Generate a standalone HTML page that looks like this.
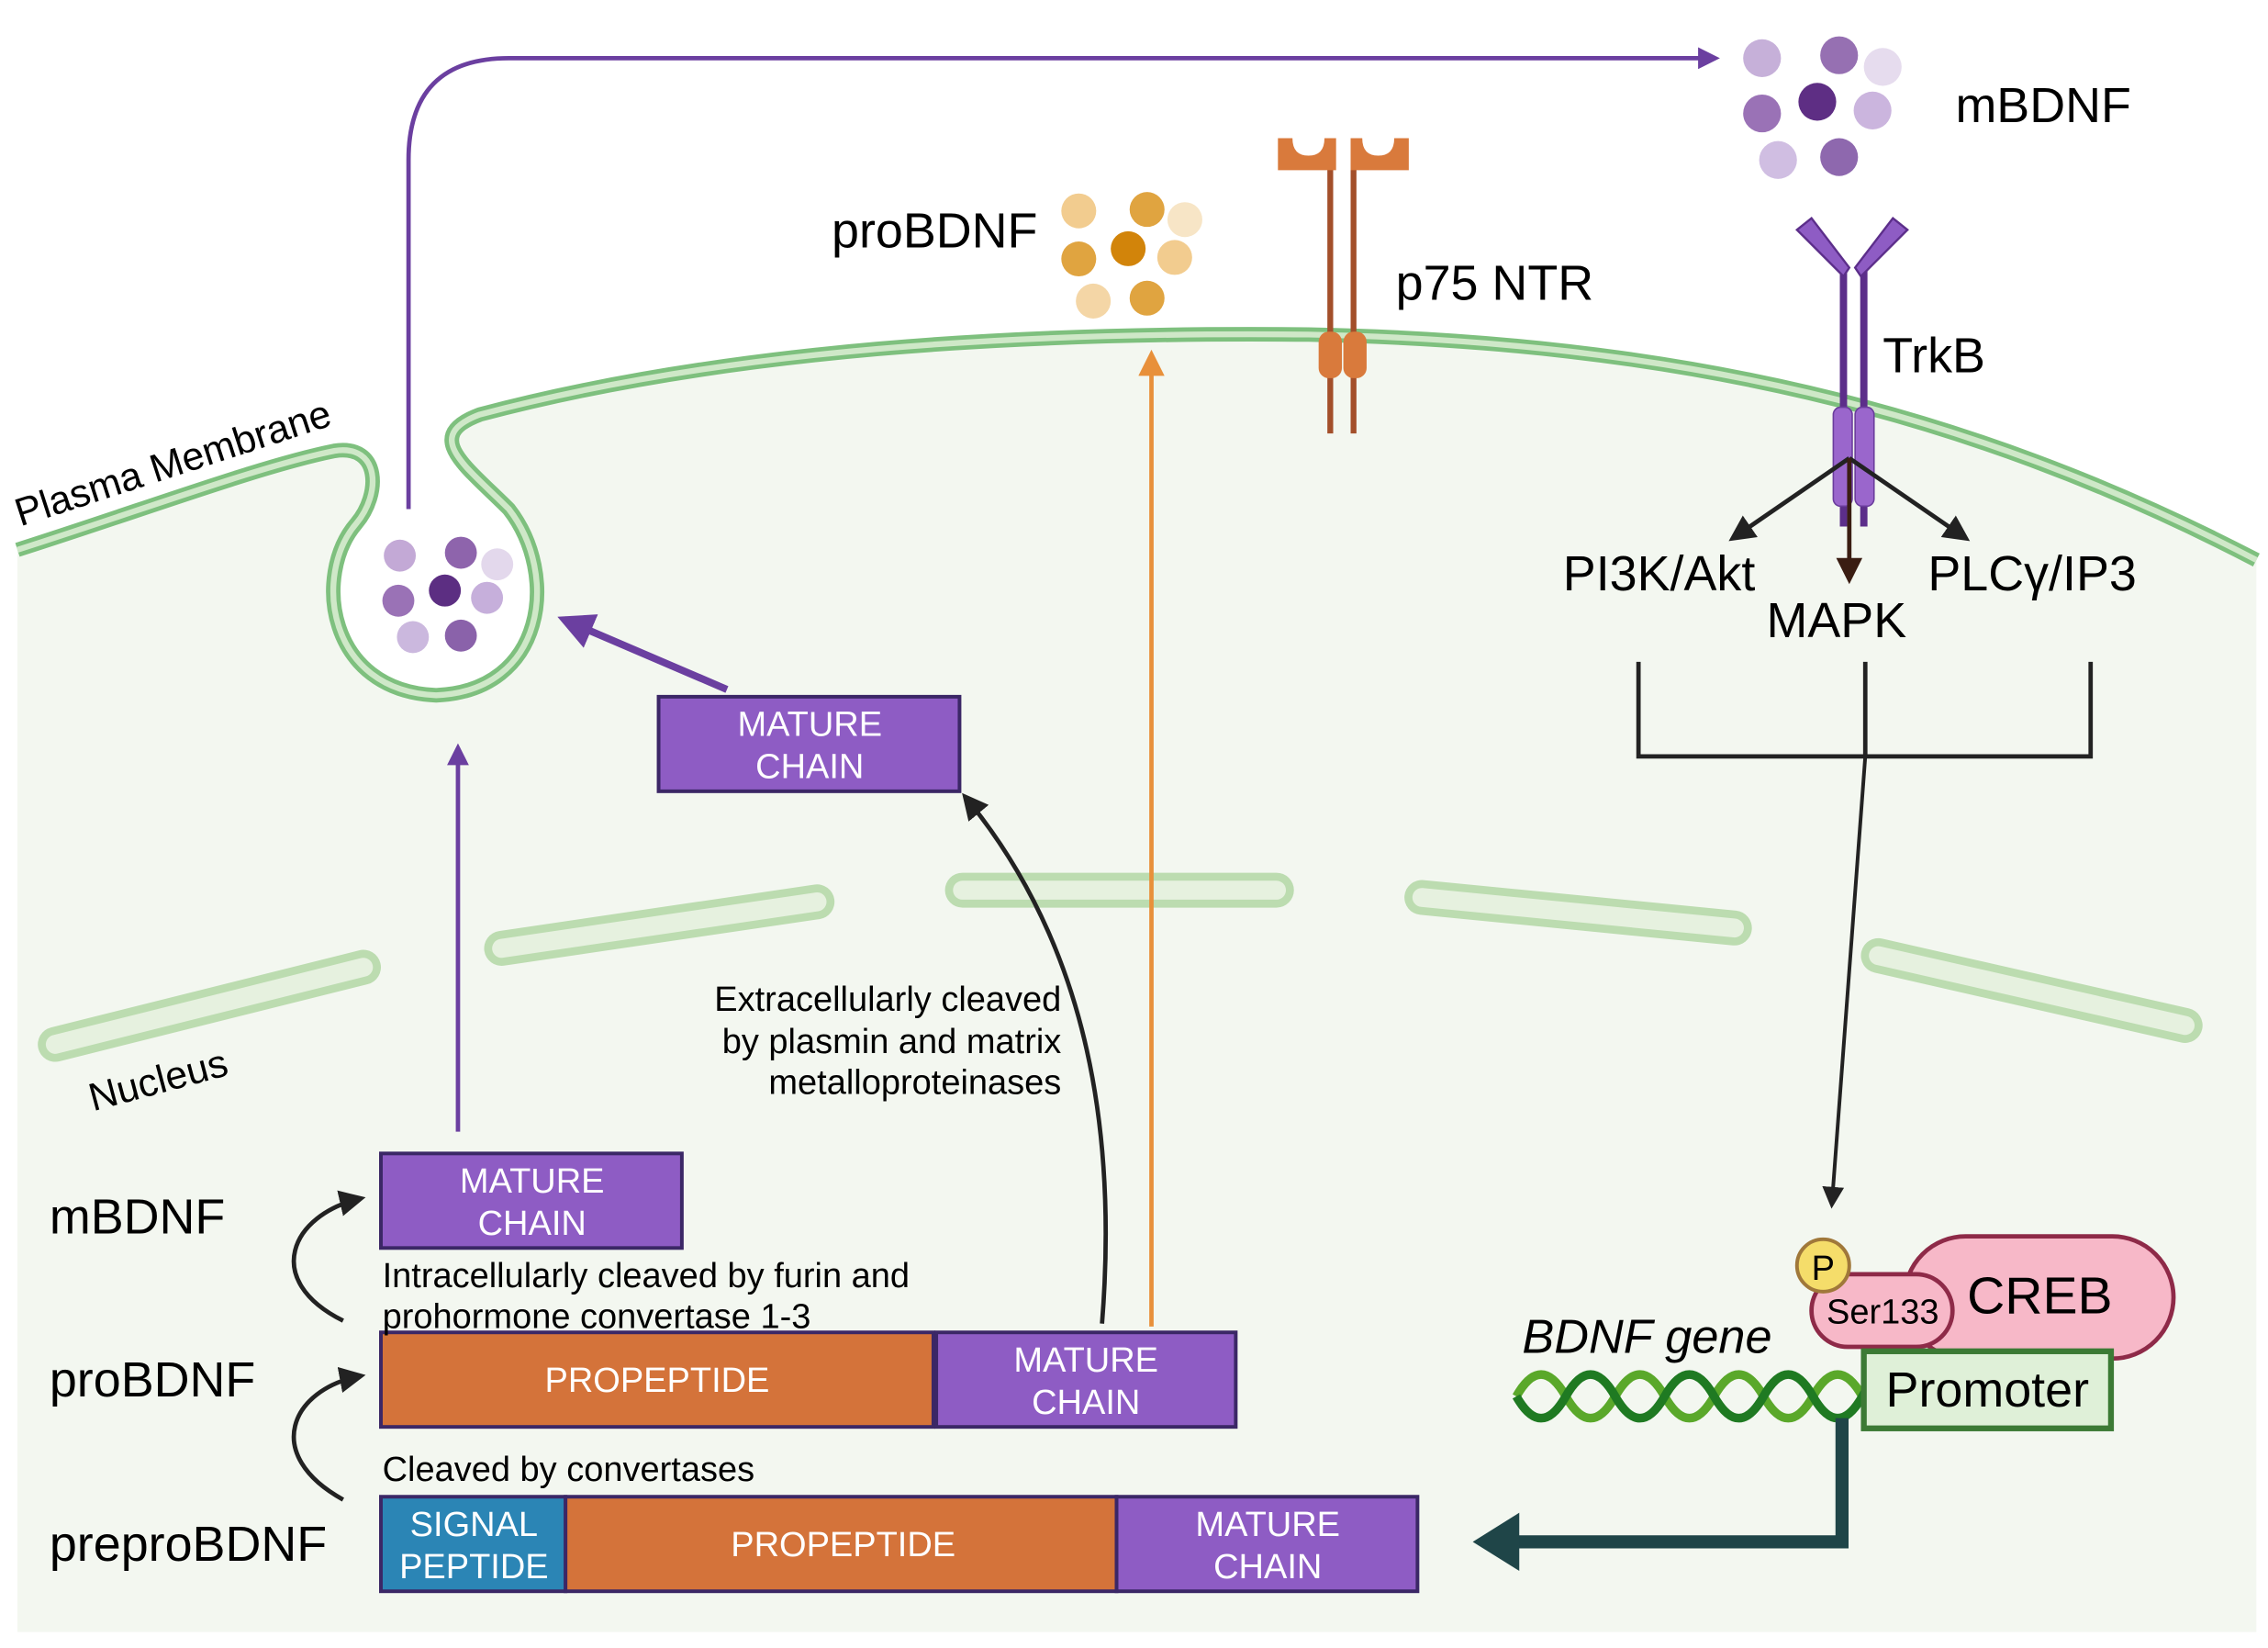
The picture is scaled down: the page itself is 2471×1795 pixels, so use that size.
<!DOCTYPE html>
<html><head><meta charset="utf-8"><style>
html,body{margin:0;padding:0;background:#fff;}
svg{display:block;}
text{font-family:"Liberation Sans",sans-serif;}
</style></head><body>
<svg width="2471" height="1795" viewBox="0 0 1560 1133" preserveAspectRatio="none" xmlns="http://www.w3.org/2000/svg">
<defs>
<marker id="ap" viewBox="0 0 10 10" refX="8" refY="5" markerWidth="5" markerHeight="5" orient="auto"><path d="M0,0 L10,5 L0,10 z" fill="#6b3fa0"/></marker>
<marker id="ao" viewBox="0 0 10 10" refX="8" refY="5" markerWidth="6" markerHeight="6" orient="auto"><path d="M0,0 L10,5 L0,10 z" fill="#e8903a"/></marker>
<marker id="ab" viewBox="0 0 10 10" refX="8" refY="5" markerWidth="6" markerHeight="6" orient="auto"><path d="M0,0 L10,5 L0,10 z" fill="#222"/></marker>
<marker id="abr" viewBox="0 0 10 10" refX="8" refY="5" markerWidth="6" markerHeight="6" orient="auto"><path d="M0,0 L10,5 L0,10 z" fill="#3a1d12"/></marker>
</defs>
<!-- cell interior -->
<path d="M12,378 C100,350 180,320 230,310 C262,305 262,340 245,360 C215,395 225,475 300,478 C375,475 385,395 350,350 C320,320 290,300 330,285 C500,240 700,228 900,230 C1150,235 1350,280 1552,385 L1552,1122 L12,1122 Z" fill="#f3f7f0"/>
<!-- membrane -->
<path d="M12,378 C100,350 180,320 230,310 C262,305 262,340 245,360 C215,395 225,475 300,478 C375,475 385,395 350,350 C320,320 290,300 330,285 C500,240 700,228 900,230 C1150,235 1350,280 1552,385" fill="none" stroke="#7ec07e" stroke-width="10"/>
<path d="M12,378 C100,350 180,320 230,310 C262,305 262,340 245,360 C215,395 225,475 300,478 C375,475 385,395 350,350 C320,320 290,300 330,285 C500,240 700,228 900,230 C1150,235 1350,280 1552,385" fill="none" stroke="#cfe8c8" stroke-width="4"/>
<circle cx="300" cy="412" r="58" fill="#fff"/>
<!-- nucleus envelope -->
<g stroke-linecap="round" fill="none">
<g stroke="#bcdcb0" stroke-width="24">
<line x1="38" y1="718" x2="250" y2="665"/><line x1="345" y1="652" x2="562" y2="620"/><line x1="662" y1="612" x2="878" y2="612"/><line x1="978" y1="617" x2="1193" y2="638"/><line x1="1292" y1="657" x2="1503" y2="705"/>
</g>
<g stroke="#e6f1df" stroke-width="13">
<line x1="38" y1="718" x2="250" y2="665"/><line x1="345" y1="652" x2="562" y2="620"/><line x1="662" y1="612" x2="878" y2="612"/><line x1="978" y1="617" x2="1193" y2="638"/><line x1="1292" y1="657" x2="1503" y2="705"/>
</g>
</g>
<text x="0" y="0" font-size="27" transform="translate(14,362) rotate(-18)">Plasma Membrane</text>
<text x="0" y="0" font-size="27" transform="translate(64,764) rotate(-15)">Nucleus</text>
<!-- vesicle particles -->
<g>
<circle cx="275" cy="382" r="11" fill="#c3a9d6"/><circle cx="317" cy="380" r="11" fill="#8e64ac"/><circle cx="342" cy="388" r="11" fill="#e3d8ec"/>
<circle cx="274" cy="413" r="11" fill="#9a72b6"/><circle cx="306" cy="406" r="11" fill="#5c2e82"/><circle cx="335" cy="411" r="11" fill="#c6afdb"/>
<circle cx="284" cy="438" r="11" fill="#cbb8de"/><circle cx="317" cy="437" r="11" fill="#8a62aa"/>
</g>
<!-- mBDNF particles -->
<g>
<circle cx="1212" cy="40" r="13" fill="#c6b0d9"/><circle cx="1265" cy="38" r="13" fill="#9670b2"/><circle cx="1295" cy="46" r="13" fill="#e6dcee"/>
<circle cx="1212" cy="78" r="13" fill="#9a72b6"/><circle cx="1250" cy="70" r="13" fill="#5e2e84"/><circle cx="1288" cy="76" r="13" fill="#cbb5de"/>
<circle cx="1223" cy="110" r="13" fill="#d0bee2"/><circle cx="1265" cy="108" r="13" fill="#8e68ae"/>
</g>
<text x="1345" y="84" font-size="34">mBDNF</text>
<!-- proBDNF particles -->
<g>
<circle cx="742" cy="145" r="12" fill="#f2cc8f"/><circle cx="789" cy="144" r="12" fill="#e0a440"/><circle cx="815" cy="151" r="12" fill="#f7e5c6"/>
<circle cx="742" cy="178" r="12" fill="#e0a440"/><circle cx="776" cy="171" r="12" fill="#d2840a"/><circle cx="808" cy="177" r="12" fill="#f2cc8f"/>
<circle cx="752" cy="207" r="12" fill="#f4d6a6"/><circle cx="789" cy="205" r="12" fill="#e0a440"/>
</g>
<text x="572" y="170" font-size="34">proBDNF</text>
<!-- p75 NTR -->
<g>
<line x1="915" y1="112" x2="915" y2="298" stroke="#a34f2a" stroke-width="4"/>
<line x1="931" y1="112" x2="931" y2="298" stroke="#a34f2a" stroke-width="4"/>
<path d="M879,95 h10 q0,12 11,12 q11,0 11,-12 h8 v22 h-40 z" fill="#d97a3c"/>
<path d="M929,95 h8 q0,12 11,12 q11,0 11,-12 h10 v22 h-40 z" fill="#d97a3c"/>
<rect x="907" y="228" width="16" height="32" rx="7" fill="#d97a3c"/>
<rect x="924" y="228" width="16" height="32" rx="7" fill="#d97a3c"/>
</g>
<text x="960" y="206" font-size="34">p75 NTR</text>
<!-- TrkB -->
<g>
<line x1="1268" y1="185" x2="1268" y2="362" stroke="#5c2e8a" stroke-width="5"/>
<line x1="1282" y1="185" x2="1282" y2="362" stroke="#5c2e8a" stroke-width="5"/>
<path d="M1236,158 l10,-8 l26,34 l-4,6 z" fill="#8e5cc4" stroke="#5c2e8a" stroke-width="1.5"/>
<path d="M1312,158 l-10,-8 l-26,34 l4,6 z" fill="#8e5cc4" stroke="#5c2e8a" stroke-width="1.5"/>
<rect x="1261" y="280" width="13" height="68" rx="5" fill="#9a66cc" stroke="#6a3c9c" stroke-width="1"/>
<rect x="1276" y="280" width="13" height="68" rx="5" fill="#9a66cc" stroke="#6a3c9c" stroke-width="1"/>
</g>
<text x="1295" y="256" font-size="34">TrkB</text>
<line x1="1272" y1="315" x2="1192" y2="370" stroke="#222" stroke-width="3" marker-end="url(#ab)"/>
<line x1="1272" y1="315" x2="1352" y2="370" stroke="#222" stroke-width="3" marker-end="url(#ab)"/>
<line x1="1272" y1="315" x2="1272" y2="398" stroke="#3a1d12" stroke-width="3" marker-end="url(#abr)"/>
<text x="1075" y="406" font-size="34">PI3K/Akt</text>
<text x="1215" y="438" font-size="34">MAPK</text>
<text x="1326" y="406" font-size="34">PLCγ/IP3</text>
<path d="M1127,455 V520 H1438 V455 M1283,455 V520" fill="none" stroke="#222" stroke-width="3"/>
<line x1="1283" y1="520" x2="1260" y2="828" stroke="#222" stroke-width="2.5" marker-end="url(#ab)"/>
<!-- arrows -->
<path d="M281,350 V110 Q281,40 350,40 H1180" fill="none" stroke="#6b3fa0" stroke-width="3" marker-end="url(#ap)"/>
<line x1="315" y1="778" x2="315" y2="514" stroke="#6b3fa0" stroke-width="3" marker-end="url(#ap)"/>
<line x1="500" y1="474" x2="388" y2="426" stroke="#6b3fa0" stroke-width="5" marker-end="url(#ap)"/>
<line x1="792" y1="912" x2="792" y2="244" stroke="#e8903a" stroke-width="3" marker-end="url(#ao)"/>
<path d="M758,910 C770,760 740,640 664,548" fill="none" stroke="#222" stroke-width="3" marker-end="url(#ab)"/>
<path d="M236,908 C180,880 200,835 248,824" fill="none" stroke="#222" stroke-width="3" marker-end="url(#ab)"/>
<path d="M236,1031 C180,1000 200,955 248,946" fill="none" stroke="#222" stroke-width="3" marker-end="url(#ab)"/>
<!-- boxes -->
<g stroke="#3b2766" stroke-width="2.5">
<rect x="453" y="479" width="207" height="65" fill="#8e5cc4"/>
<rect x="262" y="793" width="207" height="65" fill="#8e5cc4"/>
<rect x="262" y="916" width="380" height="65" fill="#d4733a"/>
<rect x="644" y="916" width="206" height="65" fill="#8e5cc4"/>
<rect x="262" y="1029" width="127" height="65" fill="#2b85b5"/>
<rect x="389" y="1029" width="379" height="65" fill="#d4733a"/>
<rect x="768" y="1029" width="207" height="65" fill="#8e5cc4"/>
</g>
<g fill="#fff" font-size="24" text-anchor="middle">
<text x="557" y="506">MATURE</text><text x="557" y="535">CHAIN</text>
<text x="366" y="820">MATURE</text><text x="366" y="849">CHAIN</text>
<text x="452" y="957">PROPEPTIDE</text>
<text x="747" y="943">MATURE</text><text x="747" y="972">CHAIN</text>
<text x="326" y="1056">SIGNAL</text><text x="326" y="1085">PEPTIDE</text>
<text x="580" y="1070">PROPEPTIDE</text>
<text x="872" y="1056">MATURE</text><text x="872" y="1085">CHAIN</text>
</g>
<g font-size="34">
<text x="34" y="848">mBDNF</text>
<text x="34" y="960">proBDNF</text>
<text x="34" y="1073">preproBDNF</text>
</g>
<g font-size="24">
<text x="730" y="695" text-anchor="end">Extracellularly cleaved</text>
<text x="730" y="724" text-anchor="end">by plasmin and matrix</text>
<text x="730" y="752" text-anchor="end">metalloproteinases</text>
<text x="263" y="885">Intracellularly cleaved by furin and</text>
<text x="263" y="913">prohormone convertase 1-3</text>
<text x="263" y="1018">Cleaved by convertases</text>
</g>
<!-- DNA -->
<g fill="none" stroke-width="6">
<path d="M1043,960 q17,-30 34,0 t34,0 t34,0 t34,0 t34,0 t34,0 t34,0 t34,0 t34,0 t34,0 t34,0 t34,0" stroke="#5aa82a"/>
<path d="M1043,960 q17,30 34,0 t34,0 t34,0 t34,0 t34,0 t34,0 t34,0 t34,0 t34,0 t34,0 t34,0 t34,0" stroke="#1f7a22"/>
</g>
<text x="1047" y="930" font-size="33" font-style="italic">BDNF gene</text>
<path d="M1267,975 V1060 H1040" fill="none" stroke="#1f4548" stroke-width="9"/>
<path d="M1013,1060 L1045,1040 L1045,1080 Z" fill="#1f4548"/>
<!-- CREB -->
<rect x="1310" y="850" width="185" height="84" rx="42" fill="#f7b8c8" stroke="#8e2a48" stroke-width="3"/>
<rect x="1246" y="876" width="97" height="50" rx="25" fill="#f7b8c8" stroke="#8e2a48" stroke-width="3"/>
<circle cx="1254" cy="870" r="18" fill="#f5dd6a" stroke="#a0783a" stroke-width="2.5"/>
<text x="1254" y="880" font-size="24" text-anchor="middle">P</text>
<text x="1295" y="910" font-size="24" text-anchor="middle">Ser133</text>
<text x="1403" y="903" font-size="36" text-anchor="middle">CREB</text>
<rect x="1282" y="929" width="170" height="53" fill="#dff0d8" stroke="#3c7a35" stroke-width="4"/>
<text x="1367" y="967" font-size="34" text-anchor="middle">Promoter</text>
</svg>
</body></html>
